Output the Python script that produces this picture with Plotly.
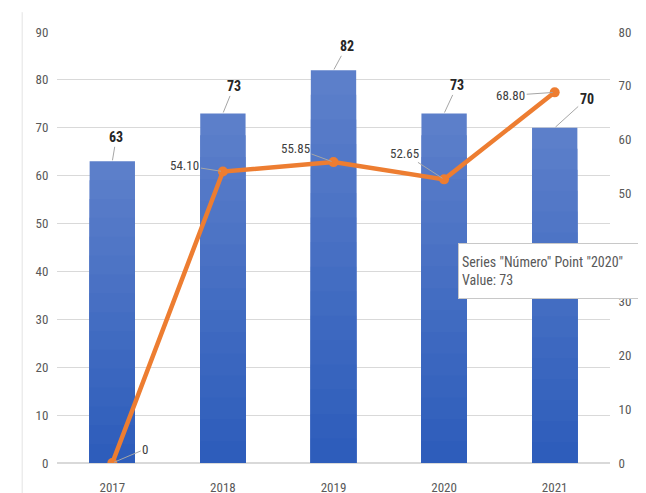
import plotly.graph_objects as go

years = ["2017", "2018", "2019", "2020", "2021"]
numero = [63, 73, 82, 73, 70]
indice = [0, 54.10, 55.85, 52.65, 68.80]
left_ticks = [0, 10, 20, 30, 40, 50, 60, 70, 80, 90]
right_ticks = [0, 10, 20, 30, 40, 50, 60, 70, 80]

# label offsets (pixels) for leader-line labels
bar_off = [(4, -24), (11, -27), (13, -24), (13, -28), (32, -29)]
line_off = [(33, -14), (-38, -6), (-38, -14), (-40, -26), (-44, 3)]

FONT = "Liberation Sans Narrow, Roboto Condensed, Arial Narrow, sans-serif"
TOP_RGB = (92, 127, 202)
BOT_RGB = (46, 93, 187)
LAYERS = 16

fig = go.Figure()
# gradient-filled bars: overlaid layers, lighter at the top of each bar
for k in range(LAYERS):
    t = k / (LAYERS - 1)
    rgb = tuple(round(a + (b - a) * t) for a, b in zip(TOP_RGB, BOT_RGB))
    frac = (LAYERS - k) / LAYERS
    fig.add_trace(go.Bar(
        x=years, y=[v * frac for v in numero], name="Número",
        marker=dict(color="rgb(%d,%d,%d)" % rgb, line=dict(width=0)),
        width=0.41, hoverinfo="skip" if k else None,
    ))
fig.add_trace(go.Scatter(
    x=years, y=indice, name="Índice", yaxis="y2",
    mode="lines+markers",
    line=dict(color="#ED7D31", width=4.5),
    marker=dict(color="#ED7D31", size=10),
))

ann = []
for i, (v, (ax, ay)) in enumerate(zip(numero, bar_off)):
    ann.append(dict(x=i, y=v, xref="x", yref="y", text=f"<b>{v}</b>",
                    showarrow=True, arrowhead=0, arrowwidth=1, arrowcolor="#A6A6A6",
                    ax=ax, ay=ay, standoff=1,
                    font=dict(family=FONT, size=14, color="#262626")))
for i, (v, (ax, ay)) in enumerate(zip(indice, line_off)):
    txt = "0" if v == 0 else f"{v:.2f}"
    ann.append(dict(x=i, y=v, xref="x", yref="y2", text=txt,
                    showarrow=True, arrowhead=0, arrowwidth=1, arrowcolor="#A6A6A6",
                    ax=ax, ay=ay, standoff=2,
                    font=dict(family=FONT, size=13, color="#404040")))
ann.append(dict(
    x=0.725, y=0.510, xref="paper", yref="paper", xanchor="left", yanchor="top",
    text='Series "Número" Point "2020"<br>Value: 73', align="left",
    width=178, height=48,
    showarrow=False, bgcolor="white", bordercolor="#C8C8C8", borderwidth=1,
    borderpad=3, font=dict(family=FONT, size=14, color="#595959"),
))

fig.update_layout(
    width=646, height=493,
    margin=dict(l=49, r=44, t=24, b=38),
    paper_bgcolor="white", plot_bgcolor="white",
    showlegend=False, barmode="overlay",
    font=dict(family=FONT, size=12, color="#595959"),
    xaxis=dict(type="category", range=[-0.5, 4.5], showgrid=False, showline=False,
               automargin=False, ticks="outside", ticklen=12,
               tickcolor="rgba(0,0,0,0)", tickfont=dict(size=13, color="#595959")),
    yaxis=dict(range=[0, 90], tickvals=left_ticks, showgrid=True,
               gridcolor="#D9D9D9", zeroline=True, zerolinecolor="#D9D9D9",
               showline=False, automargin=False, ticks="outside", ticklen=5,
               tickcolor="rgba(0,0,0,0)", tickfont=dict(size=13, color="#595959")),
    yaxis2=dict(range=[0, 80], tickvals=right_ticks, overlaying="y", side="right",
                showgrid=False, zeroline=False, showline=False, automargin=False,
                ticks="outside", ticklen=5, tickcolor="rgba(0,0,0,0)",
                tickfont=dict(size=13, color="#595959")),
    annotations=ann,
    shapes=[dict(type="line", xref="paper", yref="paper", x0=-0.063, x1=-0.063,
                 y0=-0.07, y1=1.046, line=dict(color="#E3E3E3", width=1))],
)

fig.write_html("out.html")
